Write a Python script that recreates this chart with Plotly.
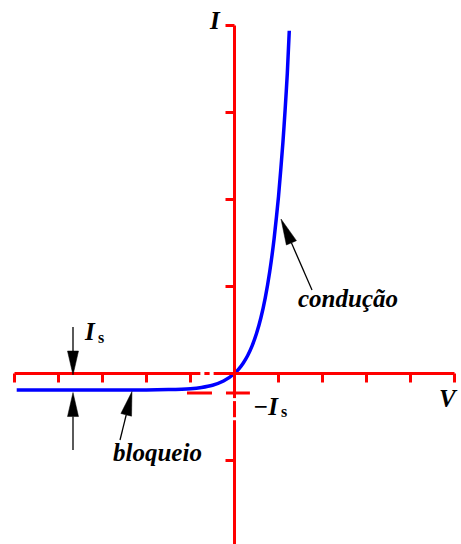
import plotly.graph_objects as go

# Diode I-V characteristic: I = Is (exp(V/Vt) - 1), values read per axis unit
voltage = [-4.95, -4.0, -3.0, -2.0, -1.5, -1.0, -0.75, -0.5, -0.25, 0.0,
           0.1, 0.2, 0.3, 0.4, 0.5, 0.6, 0.7, 0.8, 0.9, 1.0, 1.1, 1.15, 1.2, 1.245]
current = [-0.19, -0.19, -0.19, -0.189, -0.185, -0.174, -0.160, -0.135, -0.087, 0.0,
           0.053, 0.121, 0.207, 0.318, 0.460, 0.641, 0.873, 1.170, 1.549, 2.033,
           2.654, 3.027, 3.447, 3.94]

# saturation-current marker level (-Is) and its dashed guide extent
sat_level = -0.224
sat_guide_x = [-1.08, 0.35]

# axis ticks
x_ticks = [-5, -4, -3, -2, -1, 1, 2, 3, 4, 5]
y_ticks = [-1, 1, 2, 3]
x_extent = [-5, 5]
y_extent = [-2.1, 4]

# pixel scale of one axis unit and origin location on the canvas
W, H = 461, 544
UX, UY = 44.0, 87.0
OX, OY = 234.5, 373.5


def dx(px):
    return px / UX


def dy(px):
    return px / UY


def px_x(p):
    return (p - OX) / UX


def px_y(p):
    return (OY - p) / UY


RED = "#ff0000"
BLUE = "#0000ff"
shapes = []

# red axes
shapes.append(dict(type="line", x0=x_extent[0], x1=x_extent[1], y0=0, y1=0,
                   line=dict(color=RED, width=3)))
shapes.append(dict(type="line", x0=0, x1=0, y0=y_extent[0], y1=y_extent[1],
                   line=dict(color=RED, width=3)))
shapes.append(dict(type="line", x0=-dx(9), x1=0, y0=y_extent[1], y1=y_extent[1],
                   line=dict(color=RED, width=3)))
for t in x_ticks:
    shapes.append(dict(type="line", x0=t, x1=t, y0=0, y1=-dy(9),
                       line=dict(color=RED, width=3)))
for t in y_ticks:
    shapes.append(dict(type="line", x0=-dx(9), x1=0, y0=t, y1=t,
                       line=dict(color=RED, width=3)))

# small breaks in the axes near the origin
for gx in (-0.73, -0.52):
    shapes.append(dict(type="line", x0=gx - dx(2), x1=gx + dx(2), y0=0, y1=0,
                       line=dict(color="white", width=4)))
for gy in (-0.30, -0.52):
    shapes.append(dict(type="line", x0=0, x1=0, y0=gy - dy(1.5), y1=gy + dy(1.5),
                       line=dict(color="white", width=4)))


def arrow(tip_x, tip_y, tail_x, tail_y, head_len=24, head_w=11):
    # shaft plus filled head, directions computed in pixel space
    tx, ty = tip_x * UX, tip_y * UY
    sx, sy = tail_x * UX, tail_y * UY
    vx, vy = sx - tx, sy - ty
    n = (vx * vx + vy * vy) ** 0.5
    ux, uy = vx / n, vy / n
    bx, by = tx + ux * head_len, ty + uy * head_len
    px_, py_ = -uy * head_w / 2, ux * head_w / 2
    shapes.append(dict(type="line", x0=tail_x, y0=tail_y, x1=bx / UX, y1=by / UY,
                       line=dict(color="black", width=1.3)))
    path = "M{},{} L{},{} L{},{} Z".format(
        tip_x, tip_y,
        (bx + px_) / UX, (by + py_) / UY,
        (bx - px_) / UX, (by - py_) / UY)
    shapes.append(dict(type="path", path=path, fillcolor="black",
                       line=dict(color="black", width=0.5)))


# Is dimension arrows
is_x = px_x(73)
arrow(is_x, -dy(1.5), is_x, px_y(327))
arrow(is_x, current[0] - dy(2.5), is_x, px_y(450))
# region pointers
arrow(px_x(281), px_y(219), px_x(312), px_y(290), head_len=26, head_w=11)
arrow(-2.33, current[0] - dy(1.5), px_x(120), px_y(440), head_len=24, head_w=11)

fig = go.Figure()
fig.add_trace(go.Scatter(x=sat_guide_x, y=[sat_level, sat_level], mode="lines",
                         line=dict(color=RED, width=3, dash="25px,14px"),
                         hoverinfo="skip"))
fig.add_trace(go.Scatter(x=voltage, y=current, mode="lines",
                         line=dict(color=BLUE, width=3.5, shape="spline", smoothing=0.6),
                         hoverinfo="skip"))

FONT = "Liberation Serif"


def label(text, x, y, size=25, italic=True, xanchor="center"):
    return dict(text=text, x=px_x(x), y=px_y(y), xref="x", yref="y",
                showarrow=False, xanchor=xanchor, yanchor="middle",
                font=dict(family=FONT, size=size, color="black", weight="bold",
                          style="italic" if italic else "normal"))


annotations = [
    label("I", 215, 20),
    label("V", 460, 398, xanchor="right"),
    label("I", 90, 331),
    label("s", 101, 337, size=16, italic=False),
    label("\u2212I", 266, 406),
    label("s", 284, 411, size=16, italic=False),
    label("condução", 348, 298),
    label("bloqueio", 157, 452),
]

fig.update_layout(
    width=W, height=H,
    margin=dict(l=0, r=0, t=0, b=0),
    paper_bgcolor="white", plot_bgcolor="white",
    showlegend=False,
    xaxis=dict(range=[px_x(0), px_x(W)], visible=False, fixedrange=True),
    yaxis=dict(range=[px_y(H), px_y(0)], visible=False, fixedrange=True),
    shapes=shapes,
    annotations=annotations,
)

fig.write_html("out.html")
